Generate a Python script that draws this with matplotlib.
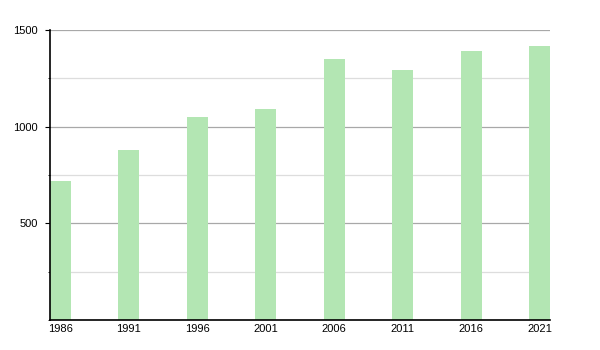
import matplotlib
matplotlib.use("Agg")
import matplotlib.pyplot as plt
from matplotlib.ticker import MultipleLocator

years = ["1986", "1991", "1996", "2001", "2006", "2011", "2016", "2021"]
population = [719, 879, 1052, 1091, 1350, 1293, 1391, 1417]

plt.rcParams['font.family'] = ['Liberation Sans', 'DejaVu Sans']

fig = plt.figure(figsize=(6, 3.5), dpi=100)
ax = fig.add_axes([50/600, 30/350, 500/600, 290/350])

w = 0.307
x = list(range(len(years)))
ax.bar(x, population, width=w, color='#b3e6b3', zorder=3)
ax.set_xlim(-w/2, len(years) - 1 + w/2)
ax.set_ylim(0, 1500)
ax.set_xticks(x)
ax.set_xticklabels(years, fontsize=8)
ax.yaxis.set_major_locator(MultipleLocator(500))
ax.yaxis.set_minor_locator(MultipleLocator(250))
ax.set_yticks([500, 1000, 1500])
ax.tick_params(axis='y', which='major', length=3.6, labelsize=8, pad=5)
ax.tick_params(axis='y', which='minor', length=1.8)
ax.tick_params(axis='x', length=0, pad=3)
ax.grid(axis='y', which='major', color='#a8a8a8', linewidth=0.9, zorder=0)
ax.grid(axis='y', which='minor', color='#dddddd', linewidth=0.9, zorder=0)
for s in ['top', 'right']:
    ax.spines[s].set_visible(False)
for s in ['left', 'bottom']:
    ax.spines[s].set_color('black')
    ax.spines[s].set_linewidth(1.2)
    ax.spines[s].set_zorder(4)

fig.savefig('out.png', dpi=100)
